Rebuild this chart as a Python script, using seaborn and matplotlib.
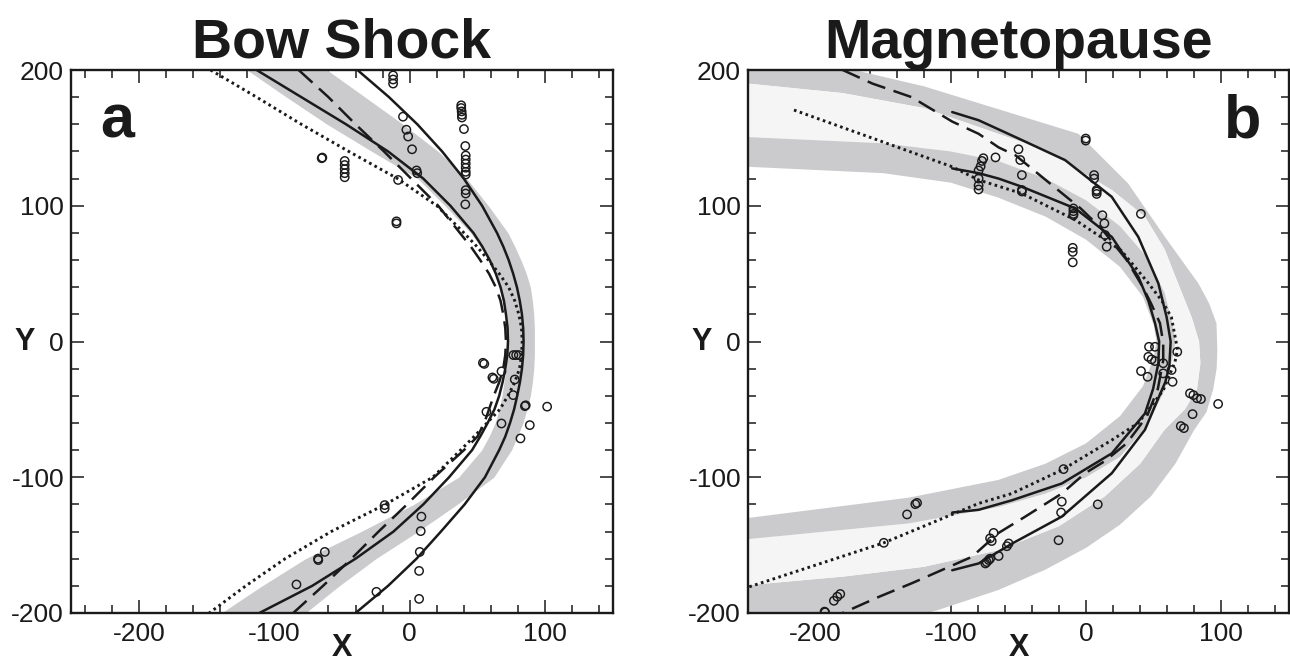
import numpy as np
import matplotlib
matplotlib.use("Agg")
import matplotlib.pyplot as plt
import seaborn as sns
from matplotlib.ticker import MultipleLocator

# ---------------- Bow shock panel (a) ----------------
bs_y = [200, 180, 160, 140, 120, 100, 80, 70, 60, 50, 40, 30, 20, 10, 0,
        -10, -20, -30, -40, -50, -60, -70, -80, -100, -120, -140, -160, -180, -200]
bs_outer_solid_x = [-38.6, -15.3, 5.6, 23.9, 39.9, 53.4, 64.4, 69, 73, 76.3, 79.1, 81.2, 82.8, 83.7, 84,
                    83.7, 82.8, 81.3, 79.3, 77, 74, 70.5, 66, 55.5, 40.5, 23, 5, -16, -40]
bs_inner_solid_x = [-113, -80, -47, -16, 10, 30, 47, 53.5, 59, 63.5, 67, 69.5, 71, 72.2, 72.5,
                    72, 70.5, 68.5, 66, 62.5, 57.5, 52, 46, 29, 10, -12, -40, -72, -111]
bs_dashed_x = [-82, -60, -40, -19, 1, 21, 37, 45, 52, 58.5, 63.5, 67, 69, 70.5, 71,
               70.5, 69, 66, 62, 58.5, 55, 50, 40, 18, -2, -23, -43, -64, -86]
bs_dotted_x = [-147, -113, -80, -45, -9, 20, 40, 49.5, 58, 66, 73, 77.5, 80.5, 82.5, 83,
               82.5, 81, 77.5, 72.5, 66.5, 57, 47.5, 37.5, 17, -18, -58, -92, -121, -148]
bs_band_inner_x = [-120, -91, -61, -28, 6, 26, 45, 52, 58, 62.5, 66, 68.5, 70, 71.2, 71.5,
                   71.3, 71, 69.5, 68, 66, 63, 58.5, 53, 36, 3, -36, -77, -109, -139]
bs_band_outer_x = [-61, -33, -5, 21, 42, 58, 72.5, 77.5, 82, 86, 89, 90.5, 91.5, 92, 92,
                   92, 91.5, 90.5, 89, 86.5, 83.5, 79.5, 75, 62, 35, 6, -25, -52, -77]

bs_pts_x = [-65, -64.5, -48, -48, -48, -48, -48, -12.3, -12.3, -12.3,
            -5, -2.5, -1.2, 1.7, -8.6, -9.8, -9.8, 5, 5.5,
            38, 38, 38.3, 38.5, 38.5, 40, 41,
            41.3, 41.3, 41.3, 41.3, 41.3, 41.3, 41.3, 41.3, 41,
            54, 55, 76.5, 78.5, 80.5, 61, 62, 67.7, 77.5, 76.3, 85, 85.6,
            101.4, 88.6, 81.7, 67.7, 56.6,
            8.6, 8.1, 7.4, 6.9, 6.9, -18.5, -18.5, -67.7, -67.5, -62.7,
            -83.6, -24.6]
bs_pts_y = [135, 135.5, 133, 130, 127, 124, 121, 196, 193, 190,
            165.6, 156, 151, 141.6, 119, 88.5, 87, 126, 124,
            174, 172, 169.5, 167, 165, 156.5, 144,
            137, 134, 131, 128, 125, 123, 111.5, 109, 101,
            -15.7, -16.5, -10, -10, -10, -26.5, -27.5, -22, -28, -39.5, -47.6, -47,
            -48, -61.6, -71.4, -60.4, -51.8,
            -129, -139.7, -155, -169, -189.6, -120.5, -123, -160, -161, -155,
            -179, -184.4]

# ---------------- Magnetopause panel (b) ----------------
mp_outer_solid_x = [-99, -79.5, -51, -15.5, 18.9, 38.6, 53.4, 59.5, 62.5,
                    61.5, 58.5, 52, 43.5, 19, -18, -55, -79.5, -99]
mp_outer_solid_y = [169, 163, 150, 133.6, 106.6, 77, 42.8, 18, 0,
                    -18.6, -30, -45, -65, -97, -129, -149, -163.5, -168.5]
mp_inner_solid_x = [-99, -79.5, -64.7, -47.5, -8, 19, 38.6, 46, 51, 54,
                    53.4, 49.5, 43.5, 19, -18, -55, -79.5, -99]
mp_inner_solid_y = [127.5, 124, 120, 114, 98, 77, 47.7, 30, 13.3, 0,
                    -16, -35, -53, -82.4, -104.6, -117, -124, -126]
mp_dashed_x = [-180, -158, -129, -99, -79.5, -64.7, -52, -25, -4, 11.5, 30, 42, 48,
               54.6, 57, 57, 53, 45, 30, 14, -0.7, -18, -45, -64.7, -84.4,
               -128.7, -153, -180]
mp_dashed_y = [200, 190, 180, 162, 153, 143, 137, 115, 98, 83, 60, 40, 28,
               13.5, -1, -14, -35, -55, -75, -88, -97, -112, -129, -141, -158.6,
               -178, -188, -200]
mp_dotted_x = [-216, -153, -99, -79.5, -47.5, -8, 26, 46, 56, 63, 67.6,
               65.7, 57, 38.6, 19, -18, -55, -79.5, -149.6, -250]
mp_dotted_y = [170.5, 148, 128.7, 119, 109, 89.5, 67, 43, 30, 18, -6,
               -15, -36, -60, -72.6, -94.7, -112, -119.3, -148.3, -181]

# limits of the model range: outer band (E1 outside, E2 inside), inner band (E3, E4)
mp_e1_x = [-250, -180, -120, -79.5, -5.7, 31, 58.3, 83, 91, 96.4, 97, 96.5, 94, 89, 80,
           66, 48, 25, 0, -30, -64.7, -110, -150, -200, -250]
mp_e1_y = [212, 202, 188, 175.6, 153, 116.5, 77, 42.8, 28, 13.3, -6, -20, -35, -52, -65,
           -90, -114, -135, -152, -168, -183, -198, -208, -216, -222]
mp_e2_x = [-250, -180, -120, -79.5, -30, 19, 43.5, 58, 68, 78, 83.5, 84.5, 82, 73,
           58, 40, 14, -20, -64.7, -120, -178, -250]
mp_e2_y = [190, 183, 172, 158, 141, 111.6, 92, 68, 42.8, 18, 0, -16, -35, -50,
           -65, -90, -114, -136, -153.7, -166, -173, -179.5]
mp_e3_x = [-250, -150, -100, -65, -30, 0, 25, 45, 58, 64, 66, 64, 58, 45, 25, 0,
           -30, -65, -131, -250]
mp_e3_y = [150.6, 146, 140, 133, 120, 104, 85, 62, 36, 12, 0, -12, -36, -62, -85,
           -100, -112, -122, -134, -145.6]
mp_e4_x = [-250, -150, -100, -65, -30, 0, 25, 42, 50, 52, 50, 42, 25, 0, -30, -65,
           -131, -250]
mp_e4_y = [128.7, 124, 117, 106, 92, 75, 55, 33, 12, 0, -12, -33, -55, -75, -90,
           -102, -115, -130]

mp_pts_x = [-76, -77, -78, -79.5, -79.5, -79.5, -79.5, -67,
            -50, -48.7, -47.5, -47.5, -47.5, -0.3, -0.3, 5.9, 5.9,
            7.8, 7.8, 7.8, -9.4, -9.4, -9.4, -9.4, -9.9, -9.9, -9.9,
            12, 13.5, 14, 15.2, 40.5,
            46.5, 50.9, 46, 48.4, 50.9, 57, 40.6, 45.5, 57, 63.2, 63.9, 67.4,
            76.8, 79.3, 82, 84.9, 97.6, 78.7, 70, 72.3,
            -16.7, -18, -18.5, 8.6, -20.4, -57.3, -58.6, -64.7,
            -68.4, -71, -69.8, -74.5, -73.5, -72, -71,
            -132.4, -126.3, -125, -149.6, -186.5, -184, -181.8, -193.4, -193]
mp_pts_y = [135, 133, 129, 126, 120, 115, 112, 135.6,
            141.6, 133.7, 122.6, 111.6, 110.5, 149.5, 148, 122.6, 120,
            111.6, 110.5, 108.7, 98, 96, 94, 93, 69, 66, 58.3,
            93, 87, 78.4, 69.8, 94,
            -3.9, -3.9, -11.3, -13.2, -14.4, -16, -21.8, -26, -23.5, -21, -29.7, -7.6,
            -38.2, -39.5, -41.8, -42.4, -46, -53.5, -62.3, -63.8,
            -94, -118, -126, -120, -146.4, -148.8, -150.8, -158,
            -141, -145, -147, -163.5, -162.5, -161, -160,
            -127.4, -119.8, -118.9, -148.3, -191, -188, -186, -199, -199.5]

x_ticks = [-200, -100, 0, 100]
y_ticks = [-200, -100, 0, 100, 200]

# ---------------- styling ----------------
sns.set_theme(style="ticks")
plt.rcParams["font.family"] = ["Liberation Sans", "DejaVu Sans"]

INK = "#1a1a1a"
BAND = "#cbcbcd"
LIGHT = "#f5f5f5"
SOLID = dict(color=INK, lw=1.8, linestyle="-")
DASHED = dict(color=INK, lw=1.8, linestyle=(0, (7.5, 3.5)))
DOTTED = dict(color=INK, lw=2.1, linestyle=(0, (0.9, 1.2)))

fig = plt.figure(figsize=(12.9, 6.62), dpi=100)
ax_a = fig.add_axes([71 / 1290, 49 / 662, 542 / 1290, 543 / 662])
ax_b = fig.add_axes([748 / 1290, 49 / 662, 541 / 1290, 543 / 662])


def curve(ax, x, y, style):
    sns.lineplot(x=x, y=y, sort=False, estimator=None, ax=ax, legend=False, **style)


def points(ax, x, y):
    sns.scatterplot(x=x, y=y, ax=ax, marker="o", s=36, legend=False, zorder=5)
    coll = ax.collections[-1]
    coll.set_facecolor("none")
    coll.set_edgecolor(INK)
    coll.set_linewidth(1.05)


# panel a
ax_a.fill_betweenx(bs_y, bs_band_inner_x, bs_band_outer_x, color=BAND, lw=0)
curve(ax_a, bs_outer_solid_x, bs_y, SOLID)
curve(ax_a, bs_inner_solid_x, bs_y, SOLID)
curve(ax_a, bs_dashed_x, bs_y, DASHED)
curve(ax_a, bs_dotted_x, bs_y, DOTTED)
points(ax_a, bs_pts_x, bs_pts_y)

# panel b
ax_b.fill(np.r_[mp_e1_x, mp_e2_x[::-1]], np.r_[mp_e1_y, mp_e2_y[::-1]], color=BAND, lw=0)
ax_b.fill(np.r_[mp_e2_x, mp_e3_x[::-1]], np.r_[mp_e2_y, mp_e3_y[::-1]], color=LIGHT, lw=0)
ax_b.fill(np.r_[mp_e3_x, mp_e4_x[::-1]], np.r_[mp_e3_y, mp_e4_y[::-1]], color=BAND, lw=0)
curve(ax_b, mp_outer_solid_x, mp_outer_solid_y, SOLID)
curve(ax_b, mp_inner_solid_x, mp_inner_solid_y, SOLID)
curve(ax_b, mp_dashed_x, mp_dashed_y, DASHED)
curve(ax_b, mp_dotted_x, mp_dotted_y, DOTTED)
points(ax_b, mp_pts_x, mp_pts_y)

for ax, title, letter, lx in [(ax_a, "Bow Shock", "a", 0.085), (ax_b, "Magnetopause", "b", 0.915)]:
    ax.set_xlim(-250, 150)
    ax.set_ylim(-200, 200)
    ax.set_xticks(x_ticks)
    ax.set_yticks(y_ticks)
    ax.set_xticklabels([str(v) for v in x_ticks])
    ax.set_yticklabels([str(v) for v in y_ticks])
    ax.xaxis.set_minor_locator(MultipleLocator(20))
    ax.yaxis.set_minor_locator(MultipleLocator(20))
    ax.tick_params(which="both", direction="in", top=True, right=True,
                   width=1.1, color=INK, labelsize=19, labelcolor=INK)
    ax.tick_params(which="major", length=9.5)
    ax.tick_params(which="minor", length=5.5)
    ax.tick_params(axis="y", pad=5)
    ax.tick_params(axis="x", pad=6.5)
    for s in ax.spines.values():
        s.set_linewidth(1.7)
        s.set_color(INK)
    ax.set_xlabel("")
    ax.set_ylabel("")
    ax.set_title(title, fontsize=40, fontweight="bold", color=INK, pad=8)
    ax.text(0.5, -0.064, "X", transform=ax.transAxes, ha="center", va="center",
            fontsize=22, fontweight="bold", color=INK)
    ax.text(-0.085, 0.5, "Y", transform=ax.transAxes, ha="center", va="center",
            fontsize=22, fontweight="bold", color=INK)
    ax.text(lx, 0.904, letter, transform=ax.transAxes, ha="center", va="center",
            fontsize=44, fontweight="bold", color=INK)
    ax.set_facecolor("white")

fig.savefig("out.png", dpi=100, facecolor="white")
